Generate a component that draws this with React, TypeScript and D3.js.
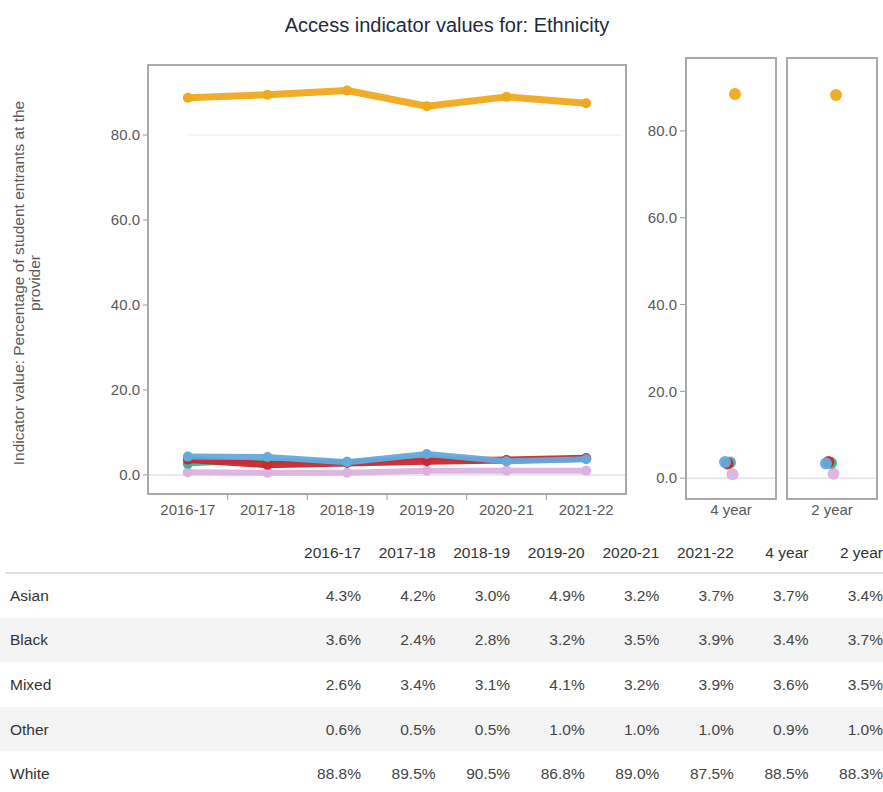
import React from "react";
import * as d3 from "d3";

const years = ["2016-17", "2017-18", "2018-19", "2019-20", "2020-21", "2021-22"];
const aggregates = ["4 year", "2 year"];
const seriesNames = ["Asian", "Black", "Mixed", "Other", "White"];
const asian = [4.3, 4.2, 3.0, 4.9, 3.2, 3.7, 3.7, 3.4];
const black = [3.6, 2.4, 2.8, 3.2, 3.5, 3.9, 3.4, 3.7];
const mixed = [2.6, 3.4, 3.1, 4.1, 3.2, 3.9, 3.6, 3.5];
const other = [0.6, 0.5, 0.5, 1.0, 1.0, 1.0, 0.9, 1.0];
const white = [88.8, 89.5, 90.5, 86.8, 89.0, 87.5, 88.5, 88.3];
const yTicks = [0, 20, 40, 60, 80];

const seriesValues: Record<string, number[]> = {
  Asian: asian,
  Black: black,
  Mixed: mixed,
  Other: other,
  White: white,
};
const colors: Record<string, string> = {
  Asian: "#64aadb",
  Black: "#c9282d",
  Mixed: "#35b59a",
  Other: "#dbb2df",
  White: "#f0a91f",
};
const drawOrder = ["Other", "Mixed", "Black", "Asian", "White"];
const lineWidth: Record<string, number> = {
  Other: 6,
  Mixed: 5,
  Black: 7,
  Asian: 6,
  White: 7,
};

const FONT = "'Liberation Sans', Arial, Helvetica, sans-serif";

export default function App() {
  const W = 883;
  const H = 792;

  // main panel
  const main = { left: 148, right: 626, top: 65, bottom: 494 };
  const x = d3.scaleBand<string>().domain(years).range([main.left, main.right]).padding(0);
  const y = d3.scaleLinear().domain([-4.5, 96.5]).range([main.bottom, main.top]);

  // small panels
  const small = { top: 58, bottom: 499 };
  const panelRanges: [number, number][] = [
    [686, 776],
    [787, 877],
  ];
  const ys = d3.scaleLinear().domain([-4.8, 96.8]).range([small.bottom, small.top]);
  const dodge = d3.scalePoint<string>().domain(seriesNames).range([-6, 4]);

  const line = (vals: number[]) =>
    d3
      .line<number>()
      .x((_, i) => (x(years[i]) as number) + x.bandwidth() / 2)
      .y((v) => y(v))
      .curve(d3.curveLinear)(vals.slice(0, years.length)) as string;

  // table
  const allCols = [...years, ...aggregates];
  const colRight = d3.scaleLinear().domain([0, allCols.length - 1]).range([361, 883]);
  const headerY = 558;
  const tableTop = 573;
  const rowH = 44.6;

  const tickColor = "#9a9a9a";
  const textColor = "#595959";
  const axisFs = 15;
  const tableFs = 15.5;

  return (
    <svg
      width={W}
      height={H}
      style={{ position: "absolute", left: 0, top: 0, fontFamily: FONT, background: "#fff" }}
    >
      <text x={447} y={32} textAnchor="middle" fontSize={20} fill="#222a3e">
        Access indicator values for: Ethnicity
      </text>

      {/* y-axis title */}
      <g transform={`translate(24, ${283}) rotate(-90)`}>
        <text x={0} y={0} textAnchor="middle" fontSize={15.5} fill={textColor}>
          Indicator value: Percentage of student entrants at the
        </text>
        <text x={0} y={16} textAnchor="middle" fontSize={15.5} fill={textColor}>
          provider
        </text>
      </g>

      {/* main panel grid */}
      <line x1={main.left} x2={main.right} y1={y(0)} y2={y(0)} stroke="#e2e2ea" strokeWidth={1.5} />
      <line x1={main.left + 40} x2={main.right - 5} y1={y(80)} y2={y(80)} stroke="#f6eef6" strokeWidth={1.5} />

      {/* y ticks main */}
      {yTicks.map((t) => (
        <g key={"my" + t}>
          <line x1={main.left - 5} x2={main.left} y1={y(t)} y2={y(t)} stroke={tickColor} />
          <text x={main.left - 8} y={y(t)} dy="0.35em" textAnchor="end" fontSize={axisFs} fill={textColor}>
            {d3.format(".1f")(t)}
          </text>
        </g>
      ))}

      {/* x ticks main */}
      {years.map((yr, i) => (
        <g key={"mx" + yr}>
          {i > 0 && (
            <line
              x1={x(yr) as number}
              x2={x(yr) as number}
              y1={main.bottom}
              y2={main.bottom + 6}
              stroke={tickColor}
            />
          )}
          <text
            x={(x(yr) as number) + x.bandwidth() / 2}
            y={main.bottom + 21}
            textAnchor="middle"
            fontSize={axisFs}
            fill={textColor}
          >
            {yr}
          </text>
        </g>
      ))}

      {/* lines */}
      {drawOrder.map((s) => (
        <g key={"l" + s}>
          <path
            d={line(seriesValues[s])}
            fill="none"
            stroke={colors[s]}
            strokeWidth={lineWidth[s]}
            strokeLinejoin="round"
            strokeLinecap="round"
            opacity={0.95}
          />
          {years.map((yr, i) => (
            <circle
              key={yr}
              cx={(x(yr) as number) + x.bandwidth() / 2}
              cy={y(seriesValues[s][i])}
              r={5}
              fill={colors[s]}
            />
          ))}
        </g>
      ))}

      {/* main border */}
      <rect
        x={main.left}
        y={main.top}
        width={main.right - main.left}
        height={main.bottom - main.top}
        fill="none"
        stroke="#a9a9a9"
        strokeWidth={2}
      />

      {/* small panels */}
      {yTicks.map((t) => (
        <g key={"sy" + t}>
          <line x1={680} x2={686} y1={ys(t)} y2={ys(t)} stroke={tickColor} />
          <text x={677} y={ys(t)} dy="0.35em" textAnchor="end" fontSize={axisFs} fill={textColor}>
            {d3.format(".1f")(t)}
          </text>
        </g>
      ))}
      {aggregates.map((a, ai) => {
        const [l, r] = panelRanges[ai];
        const cx = (l + r) / 2;
        const idx = years.length + ai;
        return (
          <g key={"p" + a}>
            <line x1={l} x2={r} y1={ys(0)} y2={ys(0)} stroke="#e6e2ee" strokeWidth={1.5} />
            {drawOrder.map((s) => (
              <circle
                key={s}
                cx={cx + (dodge(s) as number)}
                cy={ys(seriesValues[s][idx])}
                r={6}
                fill={colors[s]}
                opacity={0.95}
              />
            ))}
            <rect x={l} y={small.top} width={r - l} height={small.bottom - small.top} fill="none" stroke="#a9a9a9" strokeWidth={2} />
            <text x={cx} y={small.bottom + 16} textAnchor="middle" fontSize={axisFs} fill={textColor}>
              {a}
            </text>
          </g>
        );
      })}

      {/* table */}
      {seriesNames.map((s, ri) =>
        ri % 2 === 1 ? (
          <rect key={"bg" + s} x={0} y={tableTop + ri * rowH} width={W} height={rowH} fill="#f4f4f4" />
        ) : null
      )}
      <line x1={5} x2={W} y1={tableTop} y2={tableTop} stroke="#d6d6d6" strokeWidth={1.5} />
      {allCols.map((c, ci) => (
        <text key={"h" + c} x={colRight(ci)} y={headerY} textAnchor="end" fontSize={tableFs} fill="#333">
          {c}
        </text>
      ))}
      {seriesNames.map((s, ri) => {
        const cy = tableTop + ri * rowH + rowH / 2;
        return (
          <g key={"row" + s}>
            <text x={10} y={cy} dy="0.35em" fontSize={tableFs} fill="#333">
              {s}
            </text>
            {seriesValues[s].map((v, ci) => (
              <text key={ci} x={colRight(ci)} y={cy} dy="0.35em" textAnchor="end" fontSize={tableFs} fill="#444">
                {d3.format(".1f")(v) + "%"}
              </text>
            ))}
          </g>
        );
      })}
    </svg>
  );
}
